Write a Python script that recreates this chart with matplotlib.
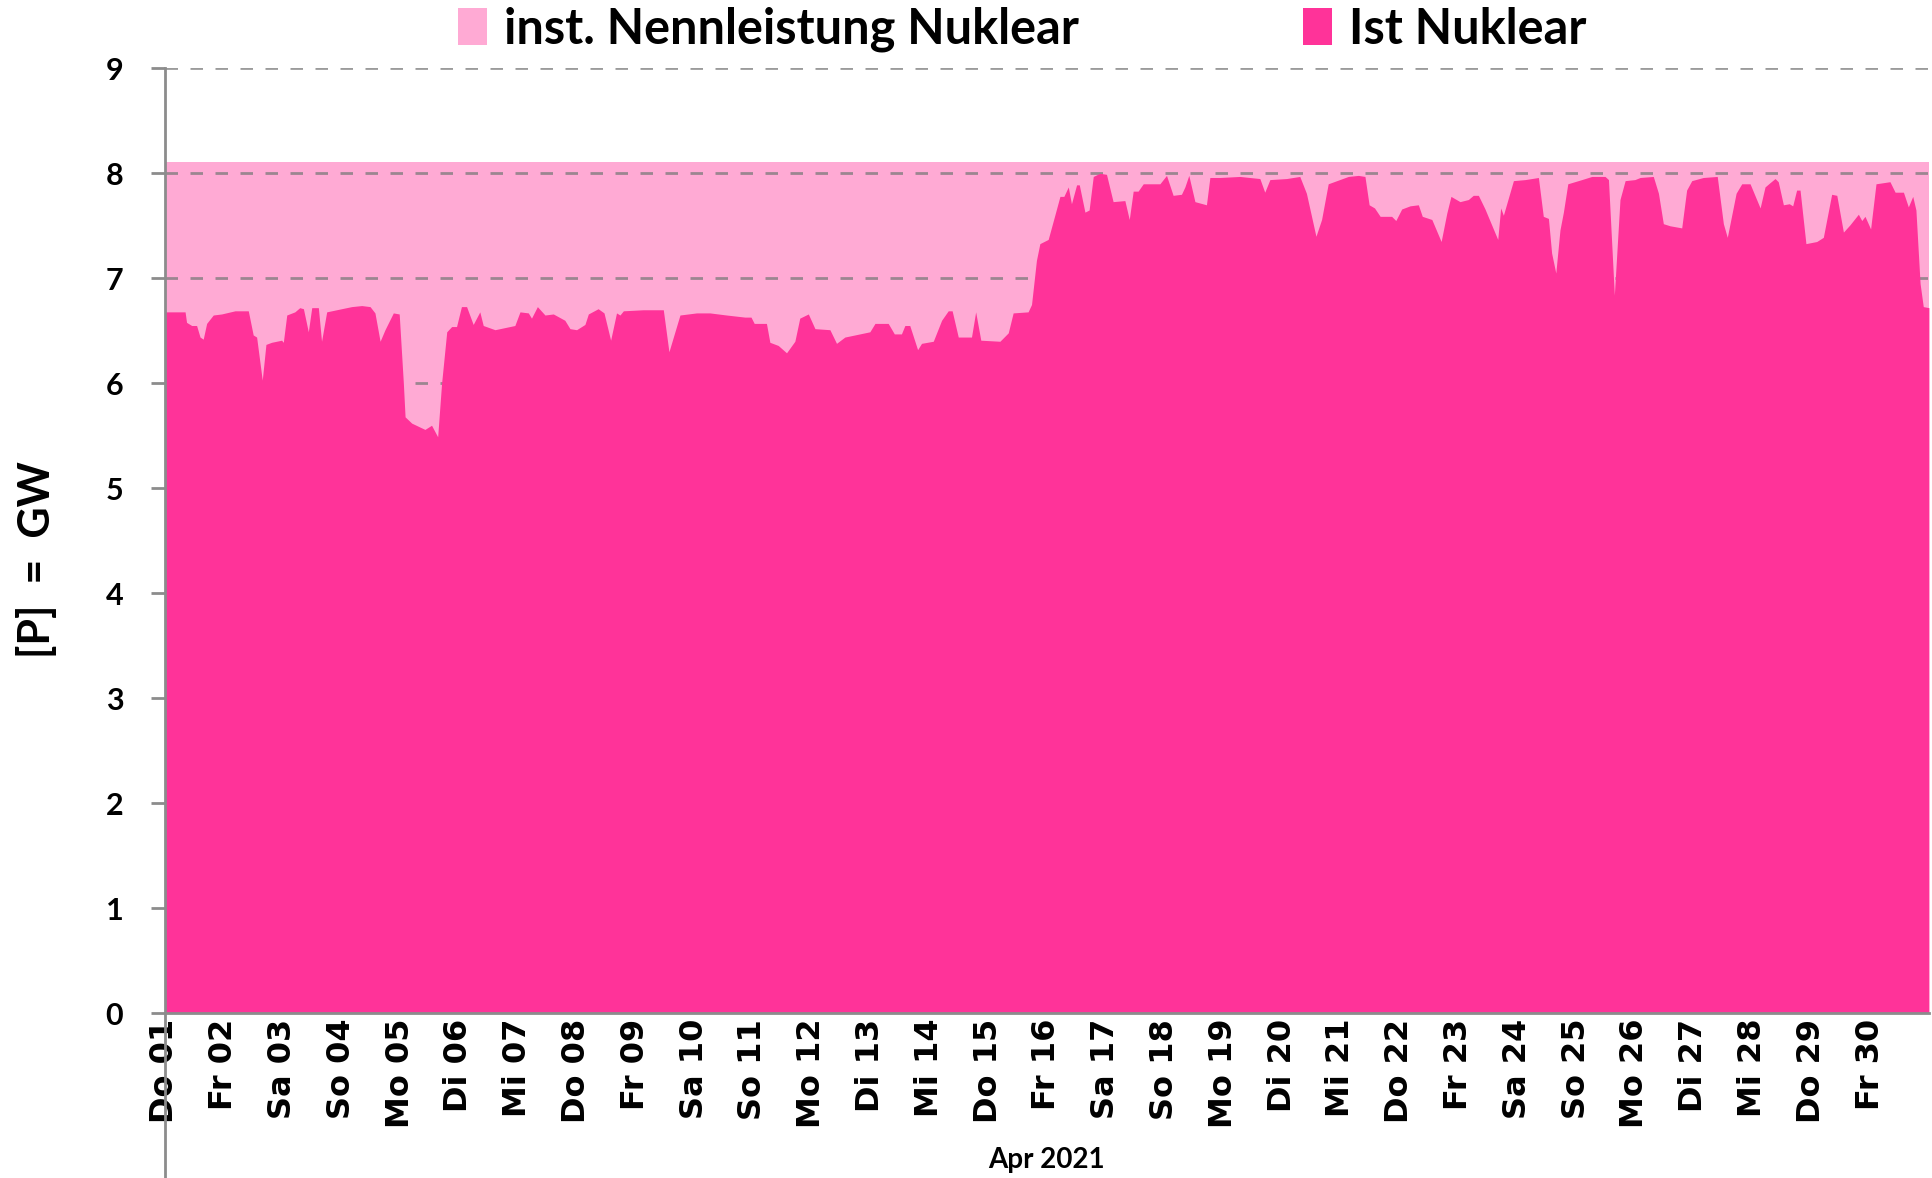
# Nuclear generation vs installed capacity, April 2021

import numpy as np
import matplotlib.pyplot as plt
from matplotlib.patches import Patch

# installed nuclear capacity (GW), constant over the month
cap_hours = [0, 720]
cap_values = [8.11, 8.11]

ist_hours = [
    0, 8.2, 8.8, 10.9, 12.9, 14.3, 15.6, 17, 19.7, 23.1, 28.6, 34, 36, 37.4,
    39.7, 41.2, 43.5, 47.6, 48.3, 49.7, 53, 55, 56.5, 58.5, 59.9, 62.6, 63.9,
    66, 72.1, 76.2, 80.3, 83.7, 85.7, 87.8, 89.8, 93.2, 95.6, 97.3, 98, 100.7,
    103.4, 106.1, 108.8, 111.3, 112.9, 115, 117, 119, 121, 123.1, 125.8, 128.5,
    129.9, 134.7, 142.8, 144.9, 148.3, 149.6, 152, 155.1, 158.5, 163.2, 165.3,
    168, 171.4, 172.8, 176.8, 179.2, 181.9, 184.3, 185.7, 187.1, 195.2, 203.4,
    205.7, 210.2, 217, 222.4, 229.2, 236.7, 239.2, 240.5, 245.5, 246.9, 250.3,
    253.7, 257.1, 259.1, 262.6, 265.3, 271.4, 274.1, 277.5, 281.6, 287.7,
    289.8, 295.2, 297.7, 300.6, 302, 304, 307.2, 308.8, 313.6, 317, 319.7,
    321.3, 323.8, 329.2, 330.9, 333, 340.8, 344.2, 346.2, 352.3, 353.7, 355.7,
    357.1, 360.5, 363.2, 365.3, 366.9, 368.7, 370, 372.1, 373.2, 375.5, 377.2,
    378.9, 381.6, 384.3, 387, 391.8, 393.6, 395.2, 397.2, 399.3, 406.1, 408.8,
    411.5, 414.9, 416.3, 417.9, 420.4, 425.1, 426.5, 430.6, 438.7, 446.9,
    448.9, 451, 457.8, 463.2, 465.9, 469.8, 472.1, 474.8, 479.5, 483, 487.1,
    489.8, 491.5, 493.7, 496, 500.7, 502.4, 504.8, 508.2, 511.6, 513.2, 517.1,
    520.9, 523.2, 524.9, 528.6, 532, 534, 536.1, 538.8, 544, 545.2, 546.3,
    550.4, 555.2, 560.6, 562.6, 564.7, 566, 567.7, 569.4, 570.8, 572.6, 578.3,
    582.4, 587.8, 589.2, 591.6, 593.9, 596, 600, 602.1, 607.5, 609.6, 611.6,
    614.3, 619.1, 621.1, 623.2, 627.9, 633.6, 636.1, 637.7, 641.3, 643.6, 647,
    651.1, 653.1, 655.1, 657.2, 658.5, 660.6, 663, 664.4, 666, 667.4, 669.8,
    674.2, 676.9, 680.3, 682.4, 685.1, 687.8, 691.2, 692.6, 693.9, 696.2,
    698.4, 704.1, 706.2, 709.6, 711.6, 713.4, 714.7, 716.4, 717.7, 720,
]
ist_values = [
    6.68, 6.68, 6.58, 6.55, 6.55, 6.44, 6.42, 6.57, 6.65, 6.66, 6.69, 6.69,
    6.46, 6.44, 6.03, 6.37, 6.39, 6.41, 6.39, 6.65, 6.68, 6.72, 6.71, 6.49,
    6.72, 6.72, 6.40, 6.68, 6.71, 6.73, 6.74, 6.73, 6.67, 6.40, 6.51, 6.67,
    6.66, 6.00, 5.68, 5.62, 5.59, 5.56, 5.60, 5.49, 6.00, 6.49, 6.54, 6.54,
    6.73, 6.73, 6.56, 6.68, 6.55, 6.51, 6.55, 6.68, 6.67, 6.62, 6.73, 6.65,
    6.66, 6.60, 6.52, 6.51, 6.56, 6.66, 6.71, 6.67, 6.41, 6.67, 6.65, 6.69,
    6.70, 6.70, 6.30, 6.65, 6.67, 6.67, 6.65, 6.63, 6.63, 6.57, 6.57, 6.39,
    6.36, 6.29, 6.40, 6.62, 6.66, 6.52, 6.51, 6.38, 6.44, 6.46, 6.49, 6.57,
    6.57, 6.47, 6.47, 6.55, 6.55, 6.32, 6.38, 6.40, 6.60, 6.69, 6.69, 6.44,
    6.44, 6.68, 6.41, 6.40, 6.48, 6.67, 6.68, 6.75, 7.17, 7.33, 7.37, 7.60,
    7.78, 7.78, 7.87, 7.71, 7.89, 7.89, 7.63, 7.65, 7.97, 8.00, 7.99, 7.73,
    7.74, 7.56, 7.83, 7.83, 7.90, 7.90, 7.98, 7.79, 7.80, 7.87, 7.98, 7.73,
    7.70, 7.96, 7.96, 7.97, 7.95, 7.82, 7.94, 7.95, 7.97, 7.81, 7.40, 7.56,
    7.90, 7.94, 7.97, 7.98, 7.97, 7.70, 7.67, 7.59, 7.59, 7.55, 7.66, 7.69,
    7.70, 7.59, 7.56, 7.35, 7.62, 7.78, 7.73, 7.75, 7.79, 7.79, 7.66, 7.37,
    7.67, 7.60, 7.93, 7.94, 7.96, 7.59, 7.57, 7.24, 7.05, 7.46, 7.63, 7.90,
    7.94, 7.97, 7.97, 7.94, 6.84, 7.75, 7.93, 7.94, 7.96, 7.97, 7.81, 7.52,
    7.50, 7.48, 7.84, 7.93, 7.96, 7.97, 7.52, 7.39, 7.81, 7.90, 7.90, 7.67,
    7.87, 7.91, 7.95, 7.92, 7.70, 7.71, 7.69, 7.84, 7.84, 7.33, 7.35, 7.39,
    7.80, 7.79, 7.44, 7.51, 7.61, 7.55, 7.59, 7.47, 7.90, 7.92, 7.82, 7.82,
    7.68, 7.78, 7.65, 6.95, 6.73, 6.72,
]

day_labels = [
    "Do 01", "Fr 02", "Sa 03", "So 04", "Mo 05", "Di 06", "Mi 07", "Do 08",
    "Fr 09", "Sa 10", "So 11", "Mo 12", "Di 13", "Mi 14", "Do 15", "Fr 16",
    "Sa 17", "So 18", "Mo 19", "Di 20", "Mi 21", "Do 22", "Fr 23", "Sa 24",
    "So 25", "Mo 26", "Di 27", "Mi 28", "Do 29", "Fr 30",
]
month_label = "Apr 2021"

COL_CAP = "#FFAAD4"
COL_IST = "#FF3399"
AXIS_GREY = "#8C8C8C"

fig = plt.figure(figsize=(19.32, 11.78), dpi=100)
ax = fig.add_axes([0.0854, 0.140, 0.913, 0.802])

# hours -> days on the x axis
cap_x = np.array(cap_hours) / 24.0
ist_x = np.array(ist_hours) / 24.0

ax.fill_between(cap_x, 0, cap_values, color=COL_CAP, lw=0, zorder=1)
ax.fill_between(ist_x, 0, ist_values, color=COL_IST, lw=0, zorder=3)

# dashed grid sits between the two areas
for yv in range(1, 10):
    ax.axhline(yv, color="#7a7a7a", alpha=0.75, lw=2, ls=(0, (4.5, 4.5)),
               zorder=2)

ax.set_xlim(0, 30)
ax.set_ylim(0, 9)

ax.set_yticks(range(0, 10))
ax.set_yticklabels([str(v) for v in range(0, 10)])
ax.tick_params(axis="y", length=10, width=2, color=AXIS_GREY, pad=20)

ax.set_xticks(np.arange(len(day_labels)))
ax.set_xticklabels(day_labels, rotation=90, va="top", ha="center")
ax.tick_params(axis="x", length=0, pad=4)

# fonts set last so nothing resets them
for lbl in ax.get_yticklabels():
    lbl.set_fontfamily("Lato")
    lbl.set_fontweight("bold")
    lbl.set_fontsize(22)
for lbl in ax.get_xticklabels():
    lbl.set_fontfamily(["DejaVu Sans"])
    lbl.set_fontweight("bold")
    lbl.set_fontsize(23)

for side in ["top", "right"]:
    ax.spines[side].set_visible(False)
for side in ["left", "bottom"]:
    ax.spines[side].set_color(AXIS_GREY)
    ax.spines[side].set_linewidth(2)
    ax.spines[side].set_zorder(5)

# category axis line continues down past the date labels
ax.plot([0, 0], [0, -0.2], transform=ax.transAxes, color=AXIS_GREY, lw=2,
        clip_on=False)

ax.text(0.5, -0.155, month_label, transform=ax.transAxes, ha="center",
        va="center", fontsize=20, fontweight="bold", family="Lato")

fig.text(0.019, 0.525, "[P]  =  GW", rotation=90, ha="center", va="center",
         fontsize=31, fontweight="bold", family="Lato")

handles = [Patch(facecolor=COL_CAP, edgecolor="none"),
           Patch(facecolor=COL_IST, edgecolor="none")]
fig.legend(handles, ["inst. Nennleistung Nuklear", "Ist Nuklear"],
           loc="center", bbox_to_anchor=(0.529, 0.975), ncol=2, frameon=False,
           prop={"family": "Lato", "weight": "bold", "size": 35},
           handlelength=0.6, handleheight=0.8, handletextpad=0.35,
           columnspacing=4.6)

fig.savefig("out.png", dpi=100)
